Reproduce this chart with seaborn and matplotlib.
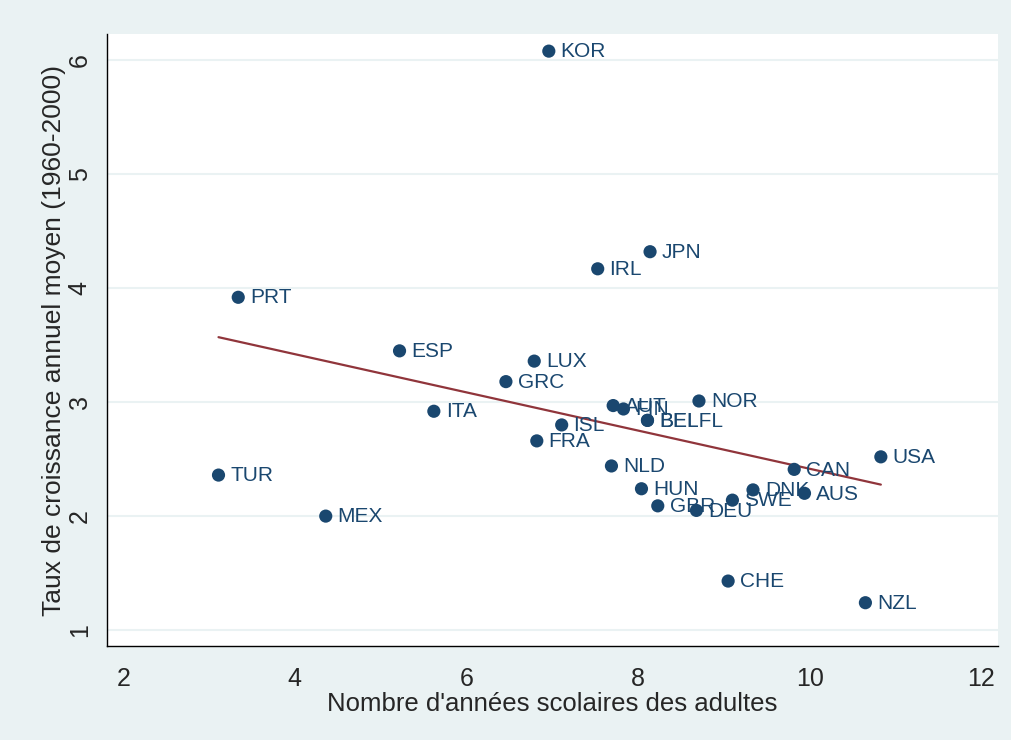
import numpy as np
import pandas as pd
import seaborn as sns
from matplotlib import pyplot as plt

countries = ["KOR", "JPN", "IRL", "PRT", "ESP", "LUX", "GRC", "NOR", "AUT", "FIN",
             "BEL", "BELFL", "ISL", "ITA", "FRA", "NLD", "TUR", "USA", "CAN", "HUN",
             "DNK", "AUS", "SWE", "GBR", "DEU", "MEX", "CHE", "NZL"]
annees_scolaires = [6.96, 8.14, 7.53, 3.34, 5.22, 6.79, 6.46, 8.71, 7.71, 7.83,
                    8.11, 8.11, 7.11, 5.62, 6.82, 7.69, 3.11, 10.83, 9.82, 8.04,
                    9.34, 9.94, 9.10, 8.23, 8.68, 4.36, 9.05, 10.65]
croissance = [6.08, 4.32, 4.17, 3.92, 3.45, 3.36, 3.18, 3.01, 2.97, 2.94,
              2.84, 2.84, 2.80, 2.92, 2.66, 2.44, 2.36, 2.52, 2.41, 2.24,
              2.23, 2.20, 2.14, 2.09, 2.05, 2.00, 1.43, 1.24]

df = pd.DataFrame({"pays": countries, "x": annees_scolaires, "y": croissance})

bg = "#eaf2f3"
navy = "#1a476f"
maroon = "#90353b"

sns.set_style("white")
plt.rcParams["font.family"] = ["Liberation Sans", "DejaVu Sans"]

fig = plt.figure(figsize=(10.12, 7.40), dpi=100, facecolor=bg)
ax = fig.add_axes([0.1057, 0.127, 0.880, 0.827])
ax.set_facecolor("white")

for yv in [1, 2, 3, 4, 5, 6]:
    ax.axhline(yv, color=bg, lw=1.5, zorder=0)

sns.regplot(data=df, x="x", y="y", scatter=False, ci=None, ax=ax,
            line_kws={"color": maroon, "lw": 1.6, "zorder": 2})
sns.scatterplot(data=df, x="x", y="y", ax=ax, color=navy, s=90,
                edgecolor="none", zorder=3)

for _, row in df.iterrows():
    ax.annotate(row["pays"], (row["x"], row["y"]), xytext=(8.5, -0.5),
                textcoords="offset points", va="center", ha="left",
                fontsize=15, color=navy, zorder=4)

ax.set_xlim(1.81, 12.19)
ax.set_ylim(0.86, 6.23)
ax.set_xticks([2, 4, 6, 8, 10, 12])
ax.set_yticks([1, 2, 3, 4, 5, 6])
ax.tick_params(axis="both", direction="out", length=7, width=1, color="black",
               labelsize=18)
ax.tick_params(axis="x", pad=8)
ax.tick_params(axis="y", pad=4)
for lab in ax.get_yticklabels():
    lab.set_rotation(90)
    lab.set_va("center")

for side in ["top", "right"]:
    ax.spines[side].set_visible(False)
for side in ["left", "bottom"]:
    ax.spines[side].set_color("black")
    ax.spines[side].set_linewidth(1)

ax.set_xlabel("Nombre d'années scolaires des adultes", fontsize=18.5, labelpad=1)
ax.set_ylabel("Taux de croissance annuel moyen (1960-2000)", fontsize=19, labelpad=1)

fig.savefig("out.png", dpi=100, facecolor=bg)
